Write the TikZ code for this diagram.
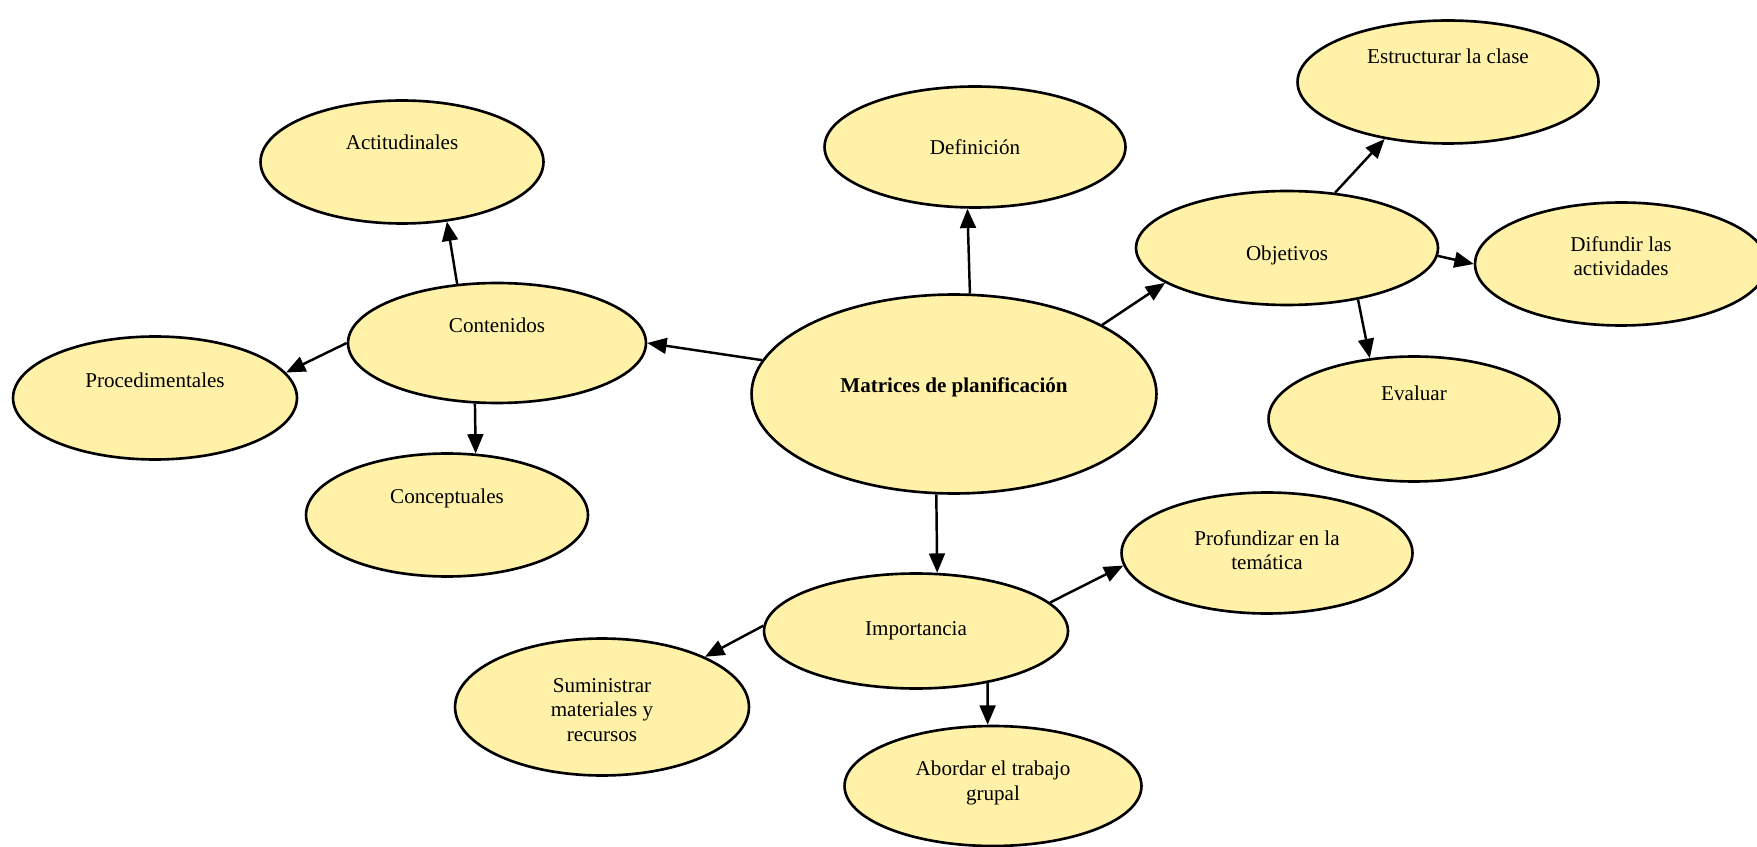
\documentclass[tikz,border=0pt]{standalone}
\usepackage{fontspec}
\setmainfont{Liberation Serif}
\usetikzlibrary{shapes.geometric, arrows.meta}

\definecolor{bubin}{HTML}{FFF2A8}
\definecolor{bubmid}{HTML}{F3D983}
\definecolor{bubrim}{HTML}{A8862E}
\pgfdeclareradialshading{bubble}{\pgfpoint{0bp}{6bp}}{color(0bp)=(bubin); color(33bp)=(bubin); color(42bp)=(bubmid); color(50bp)=(bubrim); color(70bp)=(bubrim)}

\tikzset{
	bub/.style 2 args={ellipse, draw, line width=1.5pt, shade, shading=bubble, minimum width=#1, minimum height=#2},
	txt/.style={align=center, font=\fontsize{12}{14}\selectfont},
}

\begin{document}
\begin{tikzpicture}[x=0.02cm, y=-0.02cm, >={Triangle[length=11pt, width=9pt]}]
	\useasboundingbox (0, 0) rectangle (1757, 847);

	\node (mat) at (954, 394) [bub={8.1cm}{3.98cm}, label={[txt, yshift=4pt]center:\textbf{Matrices de planificación}}] {};
	\node (def) at (975, 147) [bub={6.02cm}{2.42cm}, label={[txt]center:Definición}] {};
	\node (con) at (497, 343) [bub={5.96cm}{2.4cm}, label={[txt, yshift=10pt]center:Contenidos}] {};
	\node (act) at (402, 162) [bub={5.66cm}{2.46cm}, label={[txt, yshift=11pt]center:Actitudinales}] {};
	\node (pro) at (155, 398) [bub={5.68cm}{2.46cm}, label={[txt, yshift=10pt]center:Procedimentales}] {};
	\node (cnc) at (447, 515) [bub={5.64cm}{2.46cm}, label={[txt, yshift=9.6pt]center:Conceptuales}] {};
	\node (obj) at (1287, 248) [bub={6.04cm}{2.28cm}, label={[txt, yshift=-4pt]center:Objetivos}] {};
	\node (est) at (1448, 82) [bub={6.02cm}{2.46cm}, label={[txt, yshift=14.7pt]center:Estructurar la clase}] {};
	\node (dif) at (1621, 264) [bub={5.84cm}{2.46cm}, label={[txt, yshift=4.5pt]center:Difundir las\\actividades}] {};
	\node (eva) at (1414, 419) [bub={5.82cm}{2.5cm}, label={[txt, yshift=14.7pt]center:Evaluar}] {};
	\node (imp) at (916, 631) [bub={6.08cm}{2.3cm}, label={[txt]center:Importancia}] {};
	\node (prf) at (1267, 553) [bub={5.82cm}{2.42cm}, label={[txt, yshift=1.7pt]center:Profundizar en la\\temática}] {};
	\node (sum) at (602, 707) [bub={5.88cm}{2.74cm}, label={[txt, yshift=-1.7pt]center:Suministrar\\materiales y\\recursos}] {};
	\node (abo) at (993, 786) [bub={5.94cm}{2.4cm}, label={[txt, yshift=1.7pt]center:Abordar el trabajo\\grupal}] {};

	\path[->, line width=1.4pt]
		(mat.81) edge (def.263)
		(mat.170) edge (con.east)
		(mat.25) edge (obj.196)
		(mat.260) edge (imp.70)
		(con.124) edge (act.-53)
		(con.west) edge (pro.11)
		(con.250) edge (cnc.65)
		(obj.49) edge (est.222)
		(obj.-3) edge (dif.west)
		(obj.-36) edge (eva.126)
		(imp.12) edge (prf.185)
		(imp.178) edge (sum.26)
		(imp.-36) edge (abo.95);
\end{tikzpicture}
\end{document}
